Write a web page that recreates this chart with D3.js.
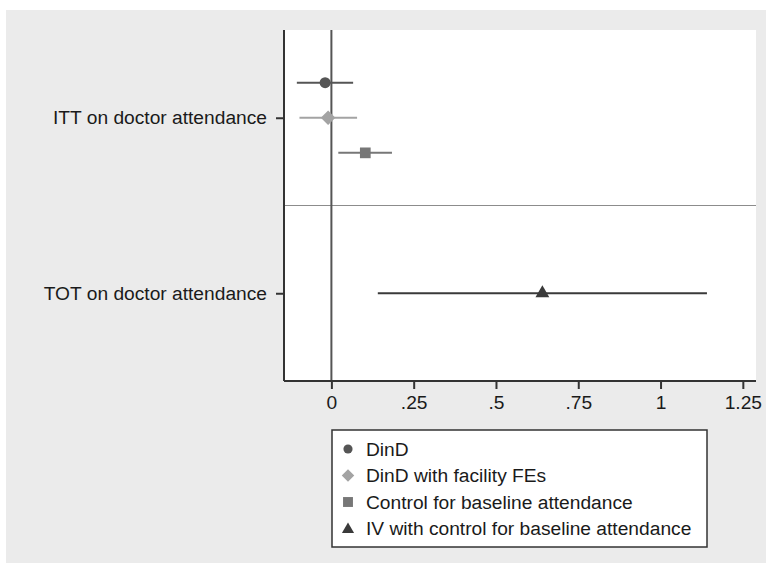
<!DOCTYPE html>
<html>
<head>
<meta charset="utf-8">
<script src="https://cdn.jsdelivr.net/npm/d3@7"></script>
<style>
  html, body { margin: 0; padding: 0; background: #ffffff; }
  svg { display: block; }
  text { font-family: "Liberation Sans", Arial, Helvetica, sans-serif; fill: #1a1a1a; }
</style>
</head>
<body>
<svg id="chart" width="766" height="563"></svg>
<script>
// ---- data ----
const categories = ["ITT on doctor attendance", "TOT on doctor attendance"];
const seriesNames = ["DinD", "DinD with facility FEs", "Control for baseline attendance", "IV with control for baseline attendance"];
const seriesCategory = [0, 0, 0, 1];
const estimates = [-0.019, -0.010, 0.103, 0.641];
const ciLow = [-0.105, -0.097, 0.021, 0.141];
const ciHigh = [0.066, 0.078, 0.184, 1.141];
const xTicks = [0, 0.25, 0.5, 0.75, 1, 1.25];
const xTickLabels = ["0", ".25", ".5", ".75", "1", "1.25"];

// ---- styles ----
const seriesColors = ["#555555", "#a3a3a3", "#777777", "#3a3a3a"];
const seriesSymbols = [d3.symbolCircle, d3.symbolDiamond2, d3.symbolSquare2, d3.symbolTriangle];
const symbolSizes = [95, 135, 146, 83];
const legendSymbolSizes = [66, 100, 125, 64];
const FONT = 19.2;

const svg = d3.select("#chart");

// outer gray panel
svg.append("rect").attr("x", 6).attr("y", 10).attr("width", 760).attr("height", 553).attr("fill", "#ebebeb");

const plot = { left: 284, right: 756, top: 30, bottom: 381 };
svg.append("rect").attr("x", plot.left).attr("y", plot.top)
  .attr("width", plot.right - plot.left).attr("height", plot.bottom - plot.top).attr("fill", "#ffffff");

const x = d3.scaleLinear().domain([-0.144, 1.29]).range([plot.left, plot.right]);
const y = d3.scaleLinear().domain([0.5, 2.5]).range([plot.top, plot.bottom]);

// within-category offsets
const countPer = categories.map((c, ci) => seriesCategory.filter(s => s === ci).length);
function yPos(i) {
  const ci = seriesCategory[i];
  const members = seriesCategory.map((s, k) => s === ci ? k : -1).filter(k => k >= 0);
  const idx = members.indexOf(i);
  const n = countPer[ci];
  const off = (idx - (n - 1) / 2) * 0.2;
  return y(ci + 1 + off);
}

// separator between categories
svg.append("line").attr("x1", plot.left).attr("x2", plot.right)
  .attr("y1", y(1.5)).attr("y2", y(1.5)).attr("stroke", "#8c8c8c").attr("stroke-width", 1.2);

// zero line
svg.append("line").attr("x1", x(0)).attr("x2", x(0))
  .attr("y1", plot.top).attr("y2", plot.bottom).attr("stroke", "#555555").attr("stroke-width", 2);

// CI lines
estimates.forEach((e, i) => {
  svg.append("line")
    .attr("x1", x(ciLow[i])).attr("x2", x(ciHigh[i]))
    .attr("y1", yPos(i)).attr("y2", yPos(i))
    .attr("stroke", seriesColors[i]).attr("stroke-width", 2);
});
// markers
estimates.forEach((e, i) => {
  svg.append("path")
    .attr("d", d3.symbol().type(seriesSymbols[i]).size(symbolSizes[i])())
    .attr("transform", `translate(${x(e)},${yPos(i)})`)
    .attr("fill", seriesColors[i]);
});

// axes
const xAxis = d3.axisBottom(x).tickValues(xTicks).tickFormat((d, k) => xTickLabels[k])
  .tickSizeInner(8).tickSizeOuter(0).tickPadding(6);
const gx = svg.append("g").attr("transform", `translate(0,${plot.bottom})`).call(xAxis);
gx.select(".domain").attr("stroke", "#333333").attr("stroke-width", 2).attr("d", `M${plot.left},0H${plot.right}`);
gx.selectAll(".tick line").attr("stroke", "#333333").attr("stroke-width", 2);
gx.selectAll(".tick text").attr("font-size", FONT).attr("fill", "#1a1a1a")
  .attr("font-family", '"Liberation Sans", Arial, sans-serif');

const yAxis = d3.axisLeft(y).tickValues([1, 2]).tickFormat(d => categories[d - 1])
  .tickSizeInner(8).tickSizeOuter(0).tickPadding(9);
const gy = svg.append("g").attr("transform", `translate(${plot.left},0)`).call(yAxis);
gy.select(".domain").attr("stroke", "#333333").attr("stroke-width", 2).attr("d", `M0,${plot.top}V${plot.bottom}`);
gy.selectAll(".tick line").attr("stroke", "#333333").attr("stroke-width", 2);
gy.selectAll(".tick text").attr("font-size", FONT).attr("fill", "#1a1a1a")
  .attr("font-family", '"Liberation Sans", Arial, sans-serif');

// legend
const lg = { x: 332, y: 430, w: 375, h: 117 };
svg.append("rect").attr("x", lg.x).attr("y", lg.y).attr("width", lg.w).attr("height", lg.h)
  .attr("fill", "#ffffff").attr("stroke", "#333333").attr("stroke-width", 1.5);
const rowY = d3.scaleLinear().domain([0, 3]).range([449, 528.5]);
seriesNames.forEach((name, i) => {
  svg.append("path")
    .attr("d", d3.symbol().type(seriesSymbols[i]).size(legendSymbolSizes[i])())
    .attr("transform", `translate(348,${rowY(i) + (i === 3 ? 1 : 0)})`)
    .attr("fill", seriesColors[i]);
  svg.append("text").attr("x", 366).attr("y", rowY(i)).attr("dy", "0.35em")
    .attr("font-size", FONT).text(name);
});
</script>
</body>
</html>
